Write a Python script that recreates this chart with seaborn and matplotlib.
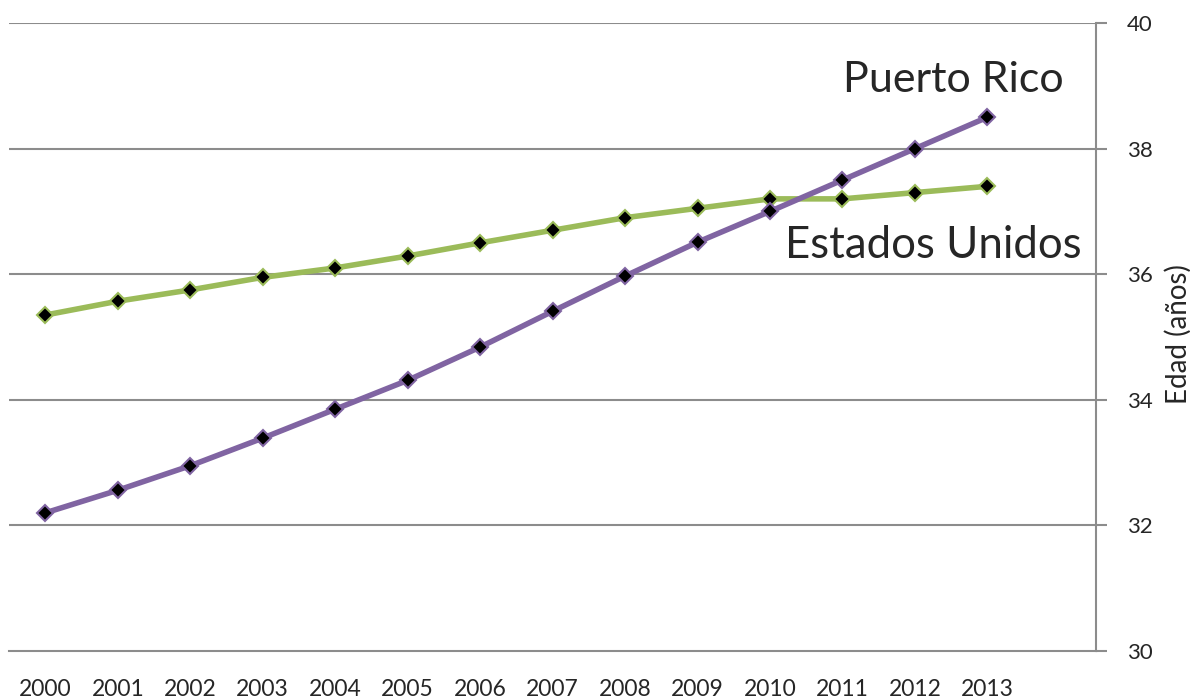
import matplotlib.pyplot as plt
import seaborn as sns
import pandas as pd
import numpy as np

sns.set_style("white")
plt.rcParams['font.family'] = ['Lato', 'DejaVu Sans']

# Median age by year
years = list(range(2000, 2014))
edad_pr = [32.2, 32.56, 32.95, 33.39, 33.85, 34.31, 34.84, 35.41, 35.97, 36.51, 37.0, 37.5, 38.0, 38.5]
edad_us = [35.35, 35.57, 35.75, 35.95, 36.1, 36.29, 36.5, 36.7, 36.9, 37.05, 37.2, 37.2, 37.3, 37.4]

df = pd.DataFrame({'Año': years, 'Puerto Rico': edad_pr, 'Estados Unidos': edad_us})

fig = plt.figure(figsize=(11.9, 6.98), dpi=100)
ax = fig.add_axes([0.0076, 0.0673, 0.9135, 0.8997])

grid_color = '#8c8c8c'
for yv in range(32, 41, 2):
    ax.axhline(yv, color=grid_color, lw=1.5, zorder=0)

sns.lineplot(x='Año', y='Estados Unidos', data=df, ax=ax, color='#9bbb59', lw=4,
             marker='D', markersize=8, markerfacecolor='black', markeredgecolor='#9bbb59',
             markeredgewidth=1.5, zorder=3)
sns.lineplot(x='Año', y='Puerto Rico', data=df, ax=ax, color='#8064a2', lw=4,
             marker='D', markersize=8, markerfacecolor='black', markeredgecolor='#8064a2',
             markeredgewidth=1.5, zorder=4)

ax.set_xlim(1999.5, 2014.5)
ax.set_ylim(30, 40)

# x axis: labels at points, tick marks at category boundaries
ax.set_xticks(years)
ax.set_xticklabels([str(y) for y in years], fontsize=16.5)
ax.set_xticks(np.arange(1999.5, 2015, 1), minor=True)
ax.tick_params(axis='x', which='major', length=0, pad=20)
ax.tick_params(axis='x', which='minor', length=8, width=1.5, color=grid_color, direction='out')

# y axis on the right
ax.yaxis.tick_right()
ax.yaxis.set_label_position('right')
ax.set_yticks(range(30, 41, 2))
ax.tick_params(axis='y', length=8, width=1.5, color=grid_color, direction='out', labelsize=16, pad=14)
ax.set_ylabel('Edad (años)', fontsize=20)
ax.yaxis.set_label_coords(1.063, 0.505)
ax.set_xlabel('')

for side in ['top', 'left']:
    ax.spines[side].set_visible(False)
for side in ['bottom', 'right']:
    ax.spines[side].set_color(grid_color)
    ax.spines[side].set_linewidth(1.5)

ax.text(2014.05, 39.1, 'Puerto Rico', fontsize=31, ha='right', va='center')
ax.text(2014.3, 36.45, 'Estados Unidos', fontsize=31.5, ha='right', va='center')

fig.savefig('out.png', dpi=100)
